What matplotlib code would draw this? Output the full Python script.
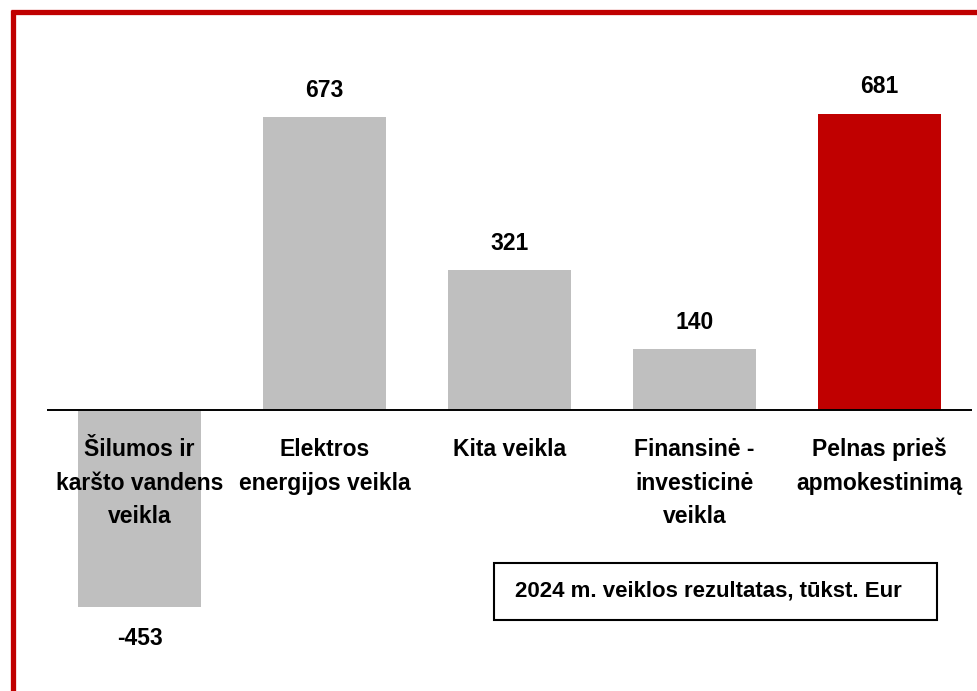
import matplotlib.pyplot as plt
from matplotlib.lines import Line2D
from matplotlib.patches import Rectangle

# data
categories = [
    "Šilumos ir\nkaršto vandens\nveikla",
    "Elektros\nenergijos veikla",
    "Kita veikla",
    "Finansinė -\ninvesticinė\nveikla",
    "Pelnas prieš\napmokestinimą",
]
values = [-453, 673, 321, 140, 681]
colors = ["#BFBFBF", "#BFBFBF", "#BFBFBF", "#BFBFBF", "#C00000"]
caption = "2024 m. veiklos rezultatas, tūkst. Eur"

font = ["Liberation Sans Narrow", "Liberation Sans", "DejaVu Sans"]

W, H = 978, 691
fig = plt.figure(figsize=(W / 100, H / 100), dpi=100)
ax = fig.add_axes([47 / W, 31 / H, 925 / W, 620 / H])

x = list(range(len(values)))
ax.bar(x, values, width=0.67, color=colors, zorder=1)
ax.axhline(0, color="black", lw=1.4, zorder=2)
ax.set_xlim(-0.5, 4.5)
ax.set_ylim(-574, 850)
ax.axis("off")

# value labels
for xi, v in zip(x, values):
    if v >= 0:
        ax.annotate(f"{v}", (xi, v), xytext=(0, 11), textcoords="offset points",
                    ha="center", va="bottom", fontsize=16.5, fontweight="bold", family=font)
    else:
        ax.annotate(f"{v}", (xi, v), xytext=(0, -14), textcoords="offset points",
                    ha="center", va="top", fontsize=16.5, fontweight="bold", family=font)

# category labels under the zero line
for xi, c in zip(x, categories):
    ax.annotate(c, (xi, 0), xytext=(0, -20), textcoords="offset points",
                ha="center", va="top", fontsize=16.5, fontweight="bold", family=font,
                linespacing=1.6, zorder=3)

# caption box
fig.add_artist(Rectangle((494 / W, 1 - 620 / H), 443 / W, 57 / H, transform=fig.transFigure,
                         fill=False, edgecolor="black", lw=1.5))
fig.text(515 / W, 1 - 591 / H, caption, ha="left", va="center", fontsize=16,
         fontweight="bold", family=font)

# red frame (top and left edge)
fig.add_artist(Line2D([13.5 / W, 13.5 / W], [0, 1 - 10 / H], transform=fig.transFigure,
                      color="#C00000", lw=3.8, solid_capstyle="butt"))
fig.add_artist(Line2D([11 / W, 1], [1 - 12 / H, 1 - 12 / H], transform=fig.transFigure,
                      color="#C00000", lw=3.8, solid_capstyle="butt"))

fig.savefig("out.png", dpi=100)
